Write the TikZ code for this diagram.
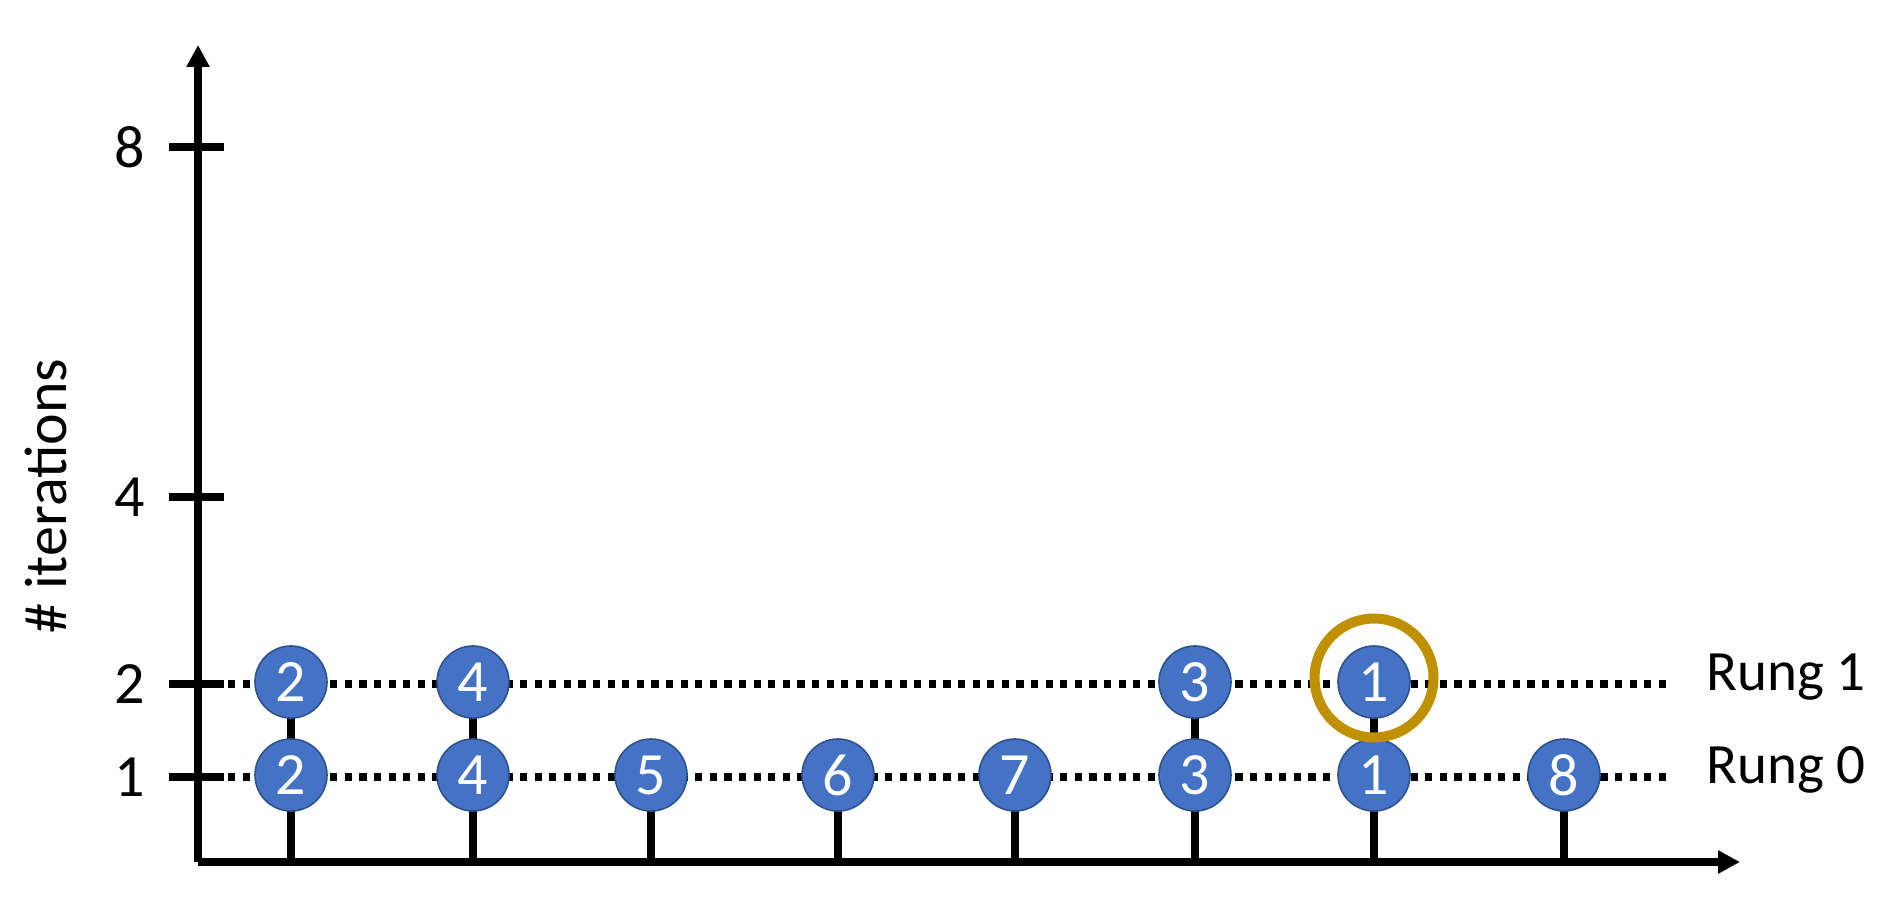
\documentclass[tikz,border=0pt]{standalone}
\usepackage{fontspec}
\setmainfont{Carlito}
\usetikzlibrary{arrows.meta}
\definecolor{nodeblue}{HTML}{4472C4}
\definecolor{nodeedge}{HTML}{2F528F}
\definecolor{ringgold}{HTML}{BF9000}
\begin{document}
\begin{tikzpicture}[x=0.5pt,y=-0.5pt,
  axisline/.style={line width=3.75pt,-{Triangle[length=11pt,width=11pt]}},
  tickline/.style={line width=3.6pt},
  rungline/.style={line width=3.6pt,dash pattern=on 3.6pt off 3.7pt},
  stemline/.style={line width=3.6pt},
  ball/.style={circle,minimum size=36pt,inner sep=0pt,fill=nodeblue,draw=nodeedge,line width=0.8pt,text=white,font=\fontsize{30}{30}\selectfont},
  ticklabel/.style={font=\fontsize{30}{30}\selectfont,inner sep=0pt},
  runglabel/.style={font=\fontsize{28.5}{28.5}\selectfont,inner sep=0pt,anchor=west},
  ring/.style={circle,minimum size=59.5pt,inner sep=0pt,draw=ringgold,line width=5pt}]
\useasboundingbox (0,0) rectangle (1897,920);
% axes
\coordinate (o) at (198,862);
\coordinate (ytop) at (198,45);
\coordinate (xend) at (1740,862);
% rung lines
\coordinate (r1s) at (228,684);
\coordinate (r1e) at (1668,684);
\coordinate (r0s) at (228,777);
\coordinate (r0e) at (1668,777);
\draw[rungline] (r1s) -- (r1e);
\draw[rungline] (r0s) -- (r0e);
% ticks
\foreach \v/\y in {8/147,4/497,2/684,1/777}{
  \coordinate (tl\v) at (169,\y);
  \coordinate (tr\v) at (224,\y);
  \draw[tickline] (tl\v) -- (tr\v);
  \node[ticklabel] (lab\v) at (130,\y) {\v};
}
\draw[axisline] (o) -- (ytop);
\draw[axisline] (o) -- (xend);
\node[rotate=90,font=\fontsize{30}{30}\selectfont,inner sep=0pt] (ylab) at (46,496) {\# iterations};
% stems
\foreach \i/\x in {1/291,2/473,3/651,4/838,5/1015,6/1195,7/1374,8/1564}{
  \coordinate (base\i) at (\x,862);
}
\foreach \i in {3,4,5,8}{
  \draw[stemline] (base\i) -- ++(0,-87);
}
\foreach \i in {1,2,6,7}{
  \draw[stemline] (base\i) -- ++(0,-180);
}
% rung 0 balls
\foreach \i/\x/\t in {1/291/2,2/473/4,3/651/5,4/838/6,5/1015/7,6/1195/3,7/1374/1,8/1564/8}{
  \node[ball] (a\i) at (\x,775) {\t};
}
% rung 1 balls
\foreach \i/\x/\t in {1/291/2,2/473/4,6/1195/3,7/1374/1}{
  \node[ball] (b\i) at (\x,682) {\t};
}
\node[ring] (hl) at (1374,678) {};
\node[runglabel] (rung1) at (1706,677) {Rung 1};
\node[runglabel] (rung0) at (1706,770) {Rung 0};
\end{tikzpicture}
\end{document}
